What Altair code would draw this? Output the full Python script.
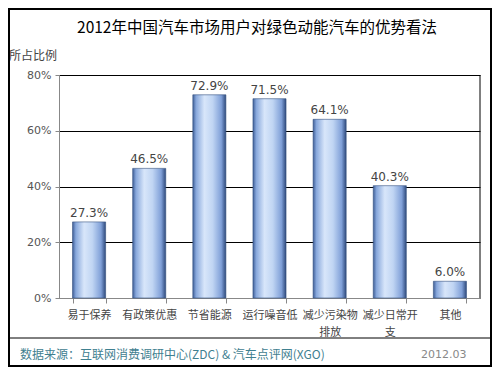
import altair as alt
import pandas as pd

title_text = "2012年中国汽车市场用户对绿色动能汽车的优势看法"
y_title = "所占比例"
categories = ["易于保养", "有政策优惠", "节省能源", "运行噪音低", "减少污染物\n排放", "减少日常开\n支", "其他"]
values = [27.3, 46.5, 72.9, 71.5, 64.1, 40.3, 6.0]
y_ticks = [0, 20, 40, 60, 80]
source_text = "数据来源：互联网消费调研中心(ZDC) & 汽车点评网(XGO)"
date_text = "2012.03"

df = pd.DataFrame({
    "cat": categories,
    "val": values,
    "label": [f"{v:.1f}%" for v in values],
})
one = pd.DataFrame({"k": [0]})

W, H = 421, 223
CJK = "Noto Sans CJK SC"

grad = {
    "gradient": "linear", "x1": 0, "x2": 1, "y1": 0, "y2": 0,
    "stops": [
        {"offset": 0.0, "color": "#3f5f98"},
        {"offset": 0.1, "color": "#88a8dc"},
        {"offset": 0.35, "color": "#d8e6fa"},
        {"offset": 0.6, "color": "#c0d5f3"},
        {"offset": 0.86, "color": "#80a0d8"},
        {"offset": 1.0, "color": "#2f4a7c"},
    ],
}

x_enc = alt.X(
    "cat:N", sort=None,
    scale=alt.Scale(paddingInner=0.45, paddingOuter=0.225),
    axis=alt.Axis(
        title=None, labelAngle=0, labelExpr="split(datum.label, '\\n')",
        labelFont=CJK, labelFontSize=11, labelFontWeight="normal", labelColor="#444",
        labelPadding=6, labelLineHeight=17,
        domainColor="#888", tickColor="#888", tickBand="extent", tickSize=5,
        grid=False,
    ),
)
y_enc = alt.Y(
    "val:Q",
    scale=alt.Scale(domain=[0, 80]),
    axis=alt.Axis(
        title=None, values=y_ticks, labelExpr="datum.value + '%'",
        labelFont="DejaVu Sans", labelFontSize=11, labelFontWeight="normal", labelColor="#555",
        labelPadding=4, tickSize=4, tickColor="#888", domainColor="#888",
        grid=True, gridColor="#000", gridWidth=1,
    ),
)

bars = alt.Chart(df).mark_bar(color=grad, stroke="#34507f", strokeWidth=0.6).encode(x=x_enc, y=y_enc)

labels = alt.Chart(df).mark_text(
    dy=-9, font="DejaVu Sans", fontSize=12, fontWeight="normal", color="#444"
).encode(x=alt.X("cat:N", sort=None), y="val:Q", text="label:N")

right_border = alt.Chart(one).mark_rule(color="#000", strokeWidth=1).encode(
    x=alt.value(W), y=alt.value(0), y2=alt.value(H)
)

title = alt.Chart(one).mark_text(
    font=CJK, fontSize=15.5, fontWeight="normal", color="#000", align="center", baseline="middle"
).encode(x=alt.value(198), y=alt.value(-47), text=alt.value(title_text))

ytitle = alt.Chart(one).mark_text(
    font=CJK, fontSize=12, fontWeight="normal", color="#444", align="left", baseline="middle"
).encode(x=alt.value(-50), y=alt.value(-19), text=alt.value(y_title))

sep = alt.Chart(one).mark_rule(color="#000", strokeWidth=1).encode(
    x=alt.value(-51), x2=alt.value(433), y=alt.value(263)
)

footer = alt.Chart(one).mark_text(
    font=CJK, fontSize=12, fontWeight="normal", color="#3f8090", align="left", baseline="middle"
).encode(x=alt.value(-39), y=alt.value(280), text=alt.value(source_text))

date = alt.Chart(one).mark_text(
    font="DejaVu Sans", fontSize=11, fontWeight="normal", color="#888", align="left", baseline="middle"
).encode(x=alt.value(362), y=alt.value(280), text=alt.value(date_text))

border = alt.Chart(one).mark_rect(fill=None, stroke="#000", strokeWidth=2).encode(
    x=alt.value(-50), x2=alt.value(432), y=alt.value(-66), y2=alt.value(291)
)

chart = alt.layer(bars, labels, right_border, title, ytitle, sep, footer, date, border).properties(
    width=W, height=H,
    autosize=alt.AutoSizeParams(type="none"),
    padding={"left": 51, "top": 67, "right": 12, "bottom": 69},
    background="#ffffff",
).configure_view(stroke=None)

chart.save("out.html", embed_options={"renderer": "svg", "actions": False})
